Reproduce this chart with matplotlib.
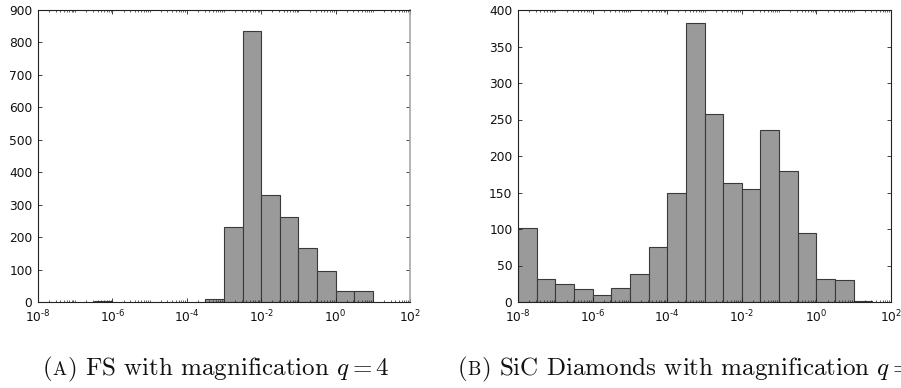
import matplotlib
matplotlib.use("Agg")

import matplotlib.pyplot as plt
import numpy as np
from matplotlib.ticker import LogLocator, NullFormatter, FuncFormatter
from matplotlib.offsetbox import TextArea, HPacker, AnnotationBbox

# ==========================================
# Data: half-decade bins from 1e-8 to 10^1.5
# ==========================================

bin_exp = np.arange(-8.0, 2.0, 0.5)   # 20 edges -> 19 bins

fs_counts = [0, 0, 0, 3, 0, 0, 0, 0, 0, 10,
             232, 835, 330, 262, 165, 95, 33, 33, 0]

sic_counts = [102, 32, 24, 18, 10, 19, 38, 76, 150, 382,
              258, 163, 155, 235, 180, 94, 32, 30, 1]

x_ticks = [1e-8, 1e-6, 1e-4, 1e-2, 1e0, 1e2]
fs_yticks = list(range(0, 1000, 100))
sic_yticks = list(range(0, 450, 50))

captions = [
    ("A", ") FS with magnification $q = 4$"),
    ("B", ") SiC Diamonds with magnification $q = 4$"),
]

BAR_FACE = "#9a9a9a"
BAR_EDGE = "#3a3a3a"
SPINE = "#222222"

plt.rcParams["font.family"] = "DejaVu Sans"
plt.rcParams["mathtext.fontset"] = "cm"

fig = plt.figure(figsize=(9.01, 3.88), dpi=100)
ax_a = fig.add_axes([38 / 901, 1 - 302 / 388, 372 / 901, 292 / 388])
ax_b = fig.add_axes([518 / 901, 1 - 302 / 388, 373 / 901, 292 / 388])


def pow10_label(v, pos):
    e = int(round(np.log10(v)))
    txt = str(e).replace("-", "\u2010")
    return r"$\mathdefault{10^{%s}}$" % txt


def draw_hist(ax, counts, yticks):
    counts = np.asarray(counts, dtype=float)
    left = 10.0 ** bin_exp[:-1]
    right = 10.0 ** bin_exp[1:]
    keep = counts > 0
    ax.bar(left[keep], counts[keep], width=(right - left)[keep], align="edge",
           color=BAR_FACE, edgecolor=BAR_EDGE, linewidth=0.8)

    ax.set_xscale("log")
    ax.set_xlim(1e-8, 1e2)
    ax.set_ylim(yticks[0], yticks[-1])
    ax.set_xticks(x_ticks)
    ax.xaxis.set_major_formatter(FuncFormatter(pow10_label))
    ax.xaxis.set_minor_locator(LogLocator(base=10, subs=np.arange(1, 10), numticks=200))
    ax.xaxis.set_minor_formatter(NullFormatter())
    ax.set_yticks(yticks)

    ax.tick_params(which="both", direction="in", top=True, right=True,
                   colors=SPINE, labelcolor="#111111", labelsize=8.8)
    ax.tick_params(which="major", length=3, width=0.6, pad=4)
    ax.tick_params(axis="x", which="major", pad=5)
    ax.tick_params(which="minor", length=1.5, width=0.5)
    for s in ax.spines.values():
        s.set_color(SPINE)
        s.set_linewidth(0.8)


draw_hist(ax_a, fs_counts, fs_yticks)
draw_hist(ax_b, sic_counts, sic_yticks)
ax_a.spines["right"].set_color("#a8a8a8")
ax_a.spines["right"].set_linewidth(1.2)

# --- Captions with small-caps panel letters ---
cap_x = [43 / 901, 458 / 901]
for (letter, rest), x in zip(captions, cap_x):
    props = dict(family="cmr10", size=18, color="#111111")
    small = dict(family="cmr10", size=13.5, color="#111111")
    box = HPacker(children=[TextArea("(", textprops=props),
                            TextArea(letter, textprops=small),
                            TextArea(rest, textprops=props)],
                  align="baseline", pad=0, sep=0)
    ab = AnnotationBbox(box, (x, 1 - 384 / 388), xycoords="figure fraction",
                        box_alignment=(0, 0), frameon=False, pad=0,
                        annotation_clip=False)
    fig.add_artist(ab)

plt.savefig("out.png", dpi=100)
